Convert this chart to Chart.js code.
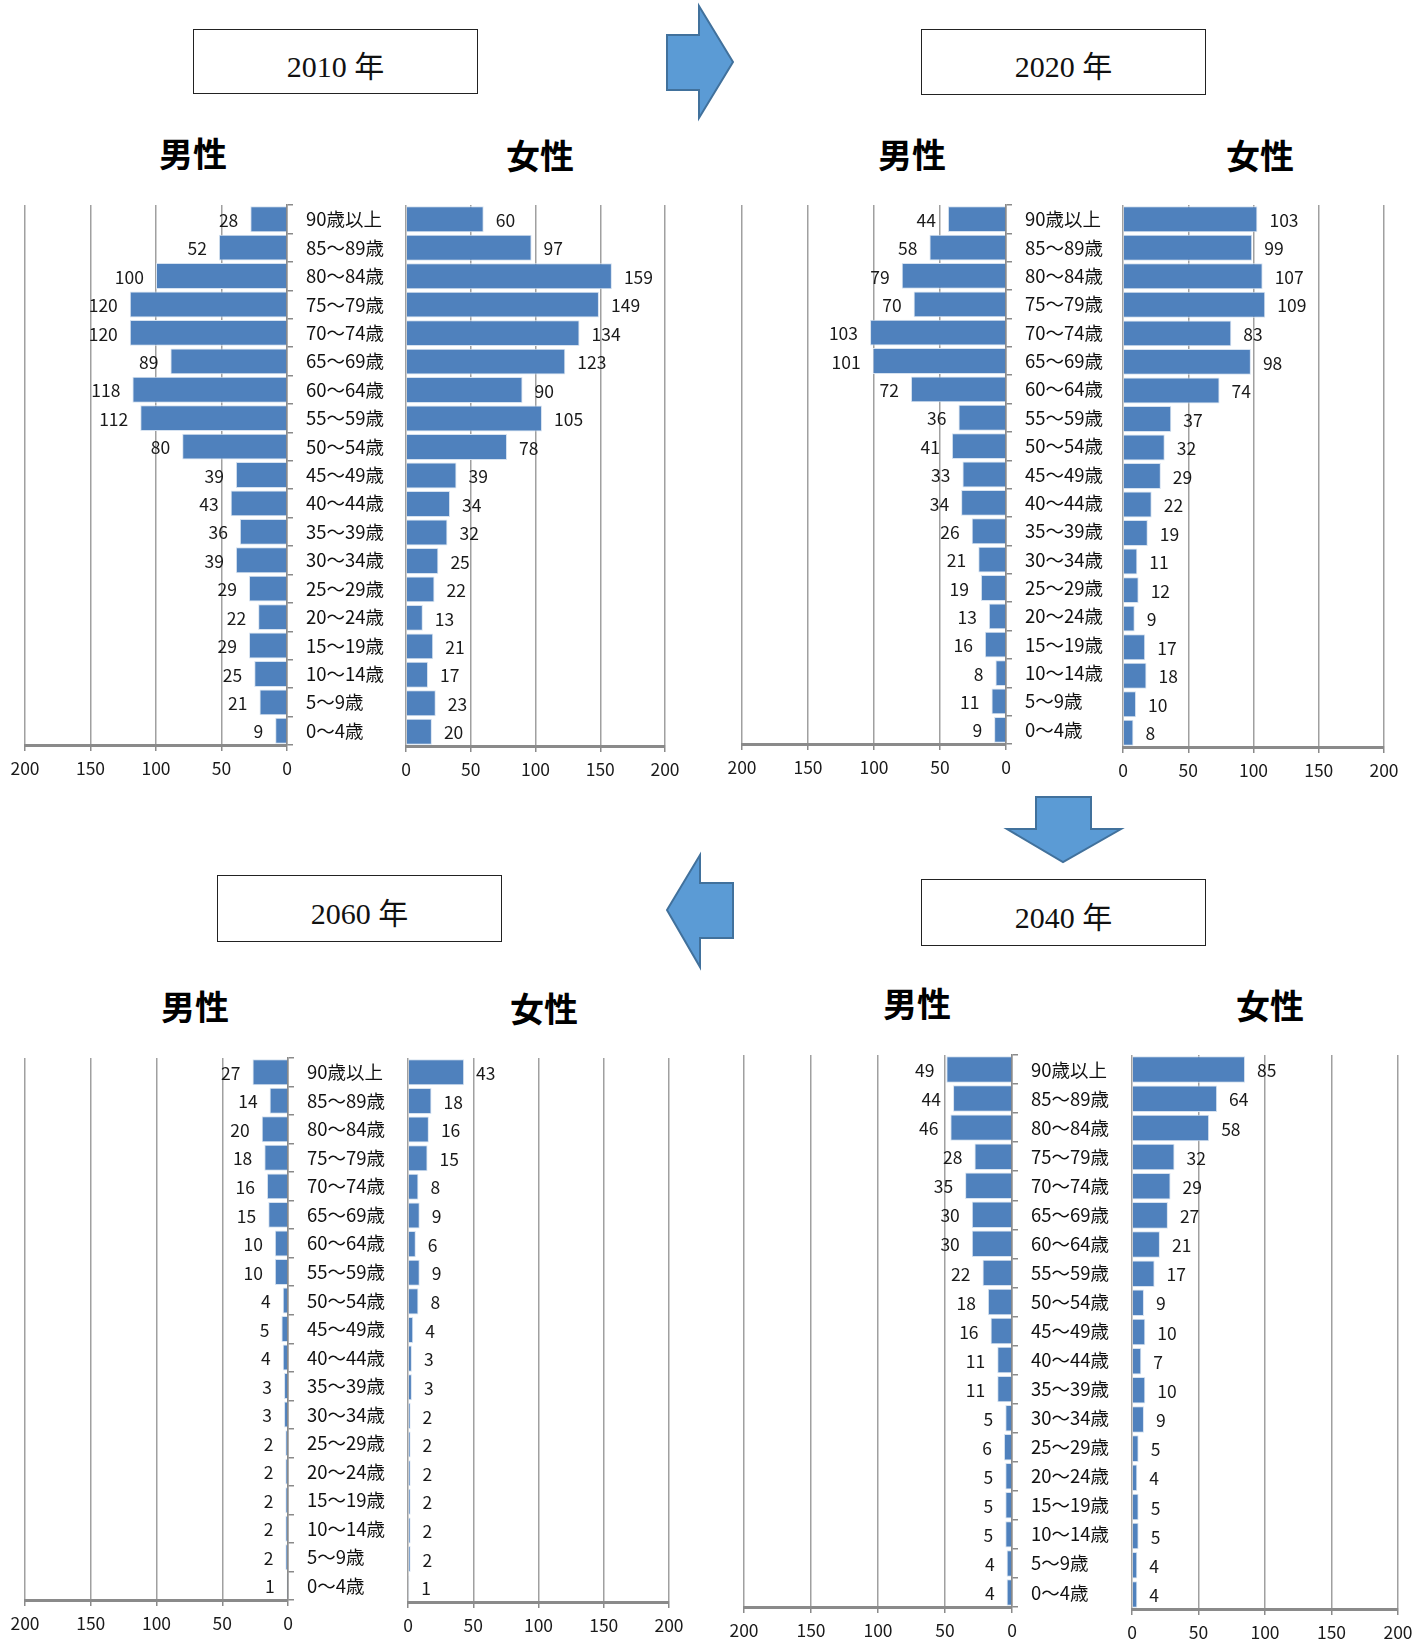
<!DOCTYPE html>
<html lang="ja">
<head>
<meta charset="utf-8">
<title>人口ピラミッドの推移</title>
<script src="https://cdn.jsdelivr.net/npm/chart.js@4/dist/chart.umd.min.js"></script>
<style>
  html, body { margin: 0; padding: 0; background: #fff; }
  body { position: relative; width: 1423px; height: 1640px; overflow: hidden; }
  .yearBox {
    position: absolute; box-sizing: border-box; border: 1.5px solid #222;
    display: flex; align-items: center; justify-content: center;
    font-family: 'Liberation Serif', 'DejaVu Serif', 'Noto Sans CJK JP', serif; font-size: 30px; color: #111;
    padding-top: 4px;
  }
  .sexTitle {
    position: absolute; transform: translate(-50%, -50%); white-space: nowrap;
    font-family: 'Noto Sans CJK JP', sans-serif; font-weight: bold; font-size: 34px; color: #000;
  }
  canvas.half { position: absolute; }
  svg.arrows { position: absolute; left: 0; top: 0; }
</style>
</head>
<body>
<svg class="arrows" width="1423" height="1640">
  <g fill="#5B9BD5" stroke="#41719C" stroke-width="2" stroke-linejoin="miter">
    <polygon points="667,35 699,35 699,6 733,62 699,118 699,90 667,90"/>
    <polygon points="1036,797 1091,797 1091,829 1121,829 1063,862 1007,829 1036,829"/>
    <polygon points="667,910 700,855 700,883 733,883 733,938 700,938 700,967"/>
  </g>
</svg>
<script>
// Age groups, oldest at the top
const ageGroups = ['90歳以上', '85～89歳', '80～84歳', '75～79歳', '70～74歳', '65～69歳', '60～64歳',
  '55～59歳', '50～54歳', '45～49歳', '40～44歳', '35～39歳', '30～34歳', '25～29歳', '20～24歳',
  '15～19歳', '10～14歳', '5～9歳', '0～4歳'];

const male2010   = [28, 52, 100, 120, 120, 89, 118, 112, 80, 39, 43, 36, 39, 29, 22, 29, 25, 21, 9];
const female2010 = [60, 97, 159, 149, 134, 123, 90, 105, 78, 39, 34, 32, 25, 22, 13, 21, 17, 23, 20];

const male2020   = [44, 58, 79, 70, 103, 101, 72, 36, 41, 33, 34, 26, 21, 19, 13, 16, 8, 11, 9];
const female2020 = [103, 99, 107, 109, 83, 98, 74, 37, 32, 29, 22, 19, 11, 12, 9, 17, 18, 10, 8];

const male2040   = [49, 44, 46, 28, 35, 30, 30, 22, 18, 16, 11, 11, 5, 6, 5, 5, 5, 4, 4];
const female2040 = [85, 64, 58, 32, 29, 27, 21, 17, 9, 10, 7, 10, 9, 5, 4, 5, 5, 4, 4];

const male2060   = [27, 14, 20, 18, 16, 15, 10, 10, 4, 5, 4, 3, 3, 2, 2, 2, 2, 2, 1];
const female2060 = [43, 18, 16, 15, 8, 9, 6, 9, 8, 4, 3, 3, 2, 2, 2, 2, 2, 2, 1];

const axisMax = 200;
const axisStep = 50;
const maleLabel = '男性';
const femaleLabel = '女性';

const NUM_FONT = "'Noto Sans CJK JP', 'Liberation Sans', sans-serif";
const BAR_FILL = '#4F81BD';
const GRID = '#a0a0a0';
const AXIS = '#8a8a8a';
const TEXT = '#1a1a1a';

// Page layout of the four pyramids (plot rectangles in page pixels)
const panels = [
  { year: '2010 年', male: male2010, female: female2010,
    box: { l: 193, t: 29, w: 285, h: 65 },
    maleTitle: [193, 152], femaleTitle: [540, 154],
    maleArea: { l: 25, r: 287, t: 205, b: 745 }, femaleArea: { l: 406, r: 665, t: 205, b: 746 } },
  { year: '2020 年', male: male2020, female: female2020,
    box: { l: 921, t: 29, w: 285, h: 66 },
    maleTitle: [912, 153], femaleTitle: [1260, 154],
    maleArea: { l: 742, r: 1006, t: 205, b: 744 }, femaleArea: { l: 1123, r: 1384, t: 205, b: 747 } },
  { year: '2040 年', male: male2040, female: female2040,
    box: { l: 921, t: 879, w: 285, h: 67 },
    maleTitle: [917, 1002], femaleTitle: [1270, 1004],
    maleArea: { l: 744, r: 1012, t: 1055, b: 1607 }, femaleArea: { l: 1132, r: 1398, t: 1055, b: 1609 } },
  { year: '2060 年', male: male2060, female: female2060,
    box: { l: 217, t: 875, w: 285, h: 67 },
    maleTitle: [195, 1005], femaleTitle: [544, 1007],
    maleArea: { l: 25, r: 288, t: 1058, b: 1600 }, femaleArea: { l: 408, r: 669, t: 1058, b: 1602 } }
];

// Writes each bar's value just beyond the end of the bar
const valueLabels = {
  id: 'valueLabels',
  afterDatasetsDraw(chart, args, opts) {
    const ctx = chart.ctx;
    const meta = chart.getDatasetMeta(0);
    const values = chart.data.datasets[0].data;
    ctx.save();
    ctx.font = '17.5px ' + NUM_FONT;
    ctx.fillStyle = TEXT;
    ctx.textBaseline = 'middle';
    meta.data.forEach((bar, i) => {
      if (opts.side === 'male') {
        ctx.textAlign = 'right';
        ctx.fillText(String(values[i]), bar.x - 12, bar.y + 1);
      } else {
        ctx.textAlign = 'left';
        ctx.fillText(String(values[i]), bar.x + 12, bar.y + 1);
      }
    });
    ctx.restore();
  }
};

function halfPyramid(side, values, area) {
  const isMale = side === 'male';
  const padL = isMale ? 30 : 20;
  const padR = isMale ? 0 : 30;
  const padT = 28;
  const ageAxisW = isMale ? 120 : 0;
  const valueAxisH = 40;

  const canvas = document.createElement('canvas');
  canvas.className = 'half';
  const w = (area.r - area.l) + padL + padR + ageAxisW;
  const h = (area.b - area.t) + padT + valueAxisH;
  canvas.width = w;
  canvas.height = h;
  canvas.style.left = (area.l - padL) + 'px';
  canvas.style.top = (area.t - padT) + 'px';
  canvas.style.width = w + 'px';
  canvas.style.height = h + 'px';
  document.body.appendChild(canvas);

  const yScale = isMale ? {
    position: 'right',
    ticks: { autoSkip: false, padding: 13, crossAlign: 'near', color: '#111',
             font: { family: NUM_FONT, size: 18.5 } },
    grid: { drawOnChartArea: false, drawTicks: true, tickLength: 6, color: AXIS, lineWidth: 1.5, offset: true },
    border: { display: true, color: AXIS, width: 1.5 },
    afterFit(scale) { scale.width = ageAxisW; }
  } : { display: false };

  return new Chart(canvas, {
    type: 'bar',
    data: {
      labels: ageGroups,
      datasets: [{
        label: isMale ? maleLabel : femaleLabel,
        data: values,
        backgroundColor: BAR_FILL,
        borderColor: '#d6e2f0',
        borderWidth: 1,
        barPercentage: 0.91,
        categoryPercentage: 1
      }]
    },
    options: {
      indexAxis: 'y',
      responsive: false,
      animation: false,
      devicePixelRatio: 1,
      layout: { padding: { left: padL, right: padR, top: padT, bottom: 0 } },
      plugins: { legend: { display: false }, tooltip: { enabled: false }, valueLabels: { side } },
      scales: {
        x: {
          type: 'linear', min: 0, max: axisMax, reverse: isMale,
          ticks: { stepSize: axisStep, padding: 7, maxRotation: 0, color: TEXT,
                   font: { family: NUM_FONT, size: 17.5 } },
          grid: { color: GRID, lineWidth: 1.5, drawTicks: true, tickLength: 6, tickColor: AXIS },
          border: { display: true, color: AXIS, width: 3 },
          afterFit(scale) { scale.height = valueAxisH; }
        },
        y: yScale
      }
    },
    plugins: [valueLabels]
  });
}

panels.forEach(p => {
  const box = document.createElement('div');
  box.className = 'yearBox';
  box.style.left = p.box.l + 'px';
  box.style.top = p.box.t + 'px';
  box.style.width = p.box.w + 'px';
  box.style.height = p.box.h + 'px';
  box.textContent = p.year;
  document.body.appendChild(box);

  [[maleLabel, p.maleTitle], [femaleLabel, p.femaleTitle]].forEach(([txt, pos]) => {
    const t = document.createElement('div');
    t.className = 'sexTitle';
    t.style.left = pos[0] + 'px';
    t.style.top = pos[1] + 'px';
    t.textContent = txt;
    document.body.appendChild(t);
  });

  halfPyramid('male', p.male, p.maleArea);
  halfPyramid('female', p.female, p.femaleArea);
});
</script>
</body>
</html>
